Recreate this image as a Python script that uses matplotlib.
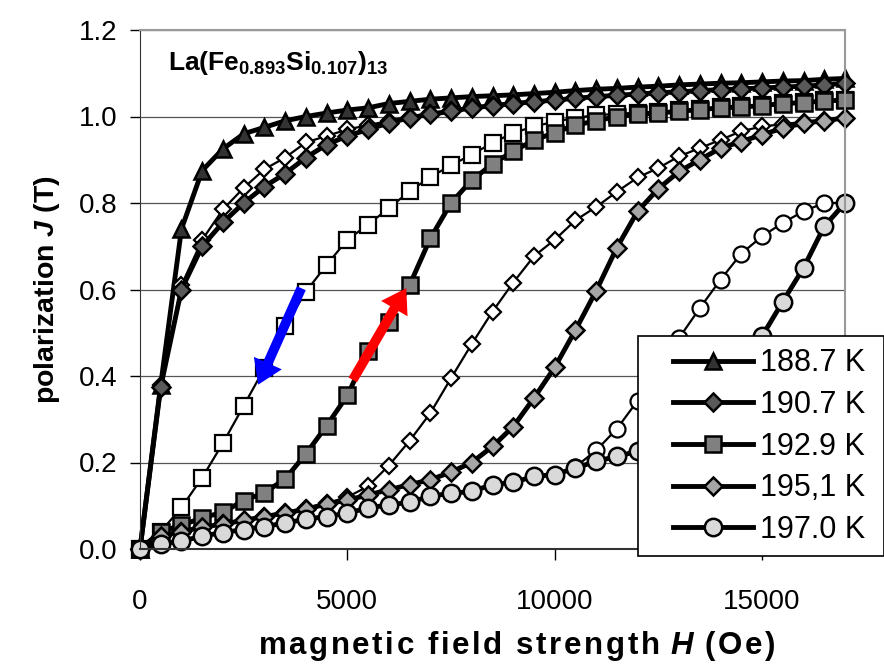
import numpy as np
import matplotlib
matplotlib.use('Agg')
from matplotlib import pyplot as plt
from matplotlib.lines import Line2D
from matplotlib.patches import Rectangle

plt.rcParams['font.family'] = ['Liberation Sans', 'DejaVu Sans']
plt.rcParams['mathtext.fontset'] = 'custom'
plt.rcParams['mathtext.rm'] = 'Liberation Sans'
plt.rcParams['mathtext.it'] = 'Liberation Sans:italic'
plt.rcParams['mathtext.bf'] = 'Liberation Sans:bold'
plt.rcParams['mathtext.bfit'] = 'Liberation Sans:bold:italic'

##############################################
# Data
##############################################
field = list(range(0, 17001, 500))  # H (Oe)

j_188_up = [0, 0.38, 0.74, 0.875, 0.925, 0.96, 0.975, 0.99, 1.0, 1.008, 1.015, 1.02,
            1.03, 1.035, 1.04, 1.043, 1.046, 1.048, 1.05, 1.053, 1.056, 1.06, 1.063,
            1.065, 1.068, 1.07, 1.073, 1.075, 1.077, 1.078, 1.08, 1.082, 1.083, 1.086, 1.088]

j_190_up = [0, 0.375, 0.60, 0.70, 0.755, 0.80, 0.838, 0.868, 0.905, 0.935, 0.955, 0.97,
            0.985, 0.997, 1.005, 1.012, 1.02, 1.025, 1.03, 1.034, 1.038, 1.042, 1.046,
            1.049, 1.052, 1.055, 1.057, 1.06, 1.062, 1.064, 1.066, 1.068, 1.07, 1.073, 1.077]
j_190_down = [0, 0.38, 0.61, 0.715, 0.785, 0.835, 0.878, 0.905, 0.94, 0.955, 0.97, 0.98,
              0.99, 1.0, 1.008, 1.015, 1.022, 1.027, 1.032, 1.036, 1.04, 1.044, 1.047,
              1.05, 1.053, 1.056, 1.058, 1.061, 1.063, 1.065, 1.067, 1.069, 1.071, 1.074, 1.077]

j_192_up = [0, 0.04, 0.055, 0.072, 0.085, 0.112, 0.13, 0.162, 0.22, 0.285, 0.355, 0.457,
            0.525, 0.61, 0.718, 0.80, 0.853, 0.89, 0.92, 0.945, 0.963, 0.98, 0.99,
            1.0, 1.005, 1.008, 1.012, 1.016, 1.02, 1.022, 1.025, 1.03, 1.032, 1.036, 1.038]
j_192_down = [0, 0.04, 0.096, 0.165, 0.245, 0.331, 0.418, 0.515, 0.595, 0.657, 0.715, 0.75,
              0.788, 0.827, 0.86, 0.887, 0.912, 0.939, 0.962, 0.977, 0.988, 0.997, 1.003,
              1.006, 1.009, 1.011, 1.014, 1.018, 1.021, 1.024, 1.027, 1.031, 1.034, 1.037, 1.038]

j_195_up = [0, 0.03, 0.04, 0.05, 0.058, 0.066, 0.075, 0.083, 0.092, 0.104, 0.113, 0.125,
            0.137, 0.149, 0.16, 0.178, 0.2, 0.237, 0.283, 0.349, 0.42, 0.506, 0.597,
            0.697, 0.781, 0.833, 0.873, 0.90, 0.927, 0.942, 0.958, 0.973, 0.985, 0.99, 0.997]
j_195_down = [0, 0.03, 0.042, 0.052, 0.06, 0.068, 0.077, 0.086, 0.095, 0.106, 0.12, 0.145,
              0.193, 0.25, 0.314, 0.395, 0.474, 0.549, 0.616, 0.677, 0.715, 0.76, 0.791,
              0.826, 0.859, 0.881, 0.908, 0.927, 0.946, 0.966, 0.977, 0.982, 0.988, 0.992, 0.997]

j_197_up = [0, 0.012, 0.018, 0.03, 0.038, 0.045, 0.052, 0.06, 0.069, 0.075, 0.083, 0.095,
            0.102, 0.108, 0.122, 0.129, 0.133, 0.149, 0.154, 0.168, 0.172, 0.187, 0.203,
            0.214, 0.226, 0.24, 0.262, 0.295, 0.345, 0.415, 0.492, 0.572, 0.65, 0.746, 0.80]
j_197_down = [0, 0.012, 0.018, 0.03, 0.038, 0.045, 0.052, 0.06, 0.069, 0.075, 0.083, 0.095,
              0.102, 0.108, 0.122, 0.129, 0.133, 0.149, 0.154, 0.168, 0.172, 0.19, 0.228,
              0.278, 0.343, 0.42, 0.488, 0.557, 0.623, 0.683, 0.723, 0.754, 0.781, 0.80, 0.80]

labels = ['188.7 K', '190.7 K', '192.9 K', '195,1 K', '197.0 K']
markers = ['^', 'D', 's', 'D', 'o']
fills = ['#333333', '#595959', '#808080', '#a6a6a6', '#d9d9d9']
msizes = [12, 9.5, 12, 9.5, 12.5]
up_curves = [j_188_up, j_190_up, j_192_up, j_195_up, j_197_up]
down_curves = [None, j_190_down, j_192_down, j_195_down, j_197_down]

##############################################
# Figure
##############################################
fig = plt.figure(figsize=(8.84, 6.70), dpi=100)
ax = fig.add_axes([140/884, 1 - 549/670, (845 - 140)/884, (549 - 30)/670])

for i in range(5):
    if down_curves[i] is not None:  # 減磁過程: 白抜き, 細線
        ax.plot(field, down_curves[i], color='black', lw=1.6, marker=markers[i],
                ms=msizes[i] - 1, mfc='white', mec='black', mew=1.6, clip_on=False)
    ax.plot(field, up_curves[i], color='black', lw=3.5, marker=markers[i],
            ms=msizes[i], mfc=fills[i], mec='black', mew=1.8, clip_on=False)

# 矢印
ax.annotate('', xy=(2850, 0.38), xytext=(3890, 0.603),
            arrowprops=dict(facecolor='#0000ff', edgecolor='none', width=7,
                            headwidth=22, headlength=17, shrink=0))
ax.annotate('', xy=(6420, 0.603), xytext=(5130, 0.391),
            arrowprops=dict(facecolor='#ff0000', edgecolor='none', width=7,
                            headwidth=22, headlength=17, shrink=0))

ax.text(680, 1.108, r'$\mathbf{La(Fe_{0.893}Si_{0.107})_{13}}$', fontsize=19,
        ha='left', va='baseline')

ax.set_xlim(0, 17000)
ax.set_ylim(0, 1.2)
ax.set_xticks([0, 5000, 10000, 15000])
ax.set_yticks(np.arange(0, 1.21, 0.2))
ax.set_yticklabels(['{:.1f}'.format(v) for v in np.arange(0, 1.21, 0.2)])
ax.yaxis.grid(True, color='#555555', lw=0.9)
ax.set_axisbelow(True)
ax.tick_params(axis='x', direction='out', length=8, width=1, labelsize=20, pad=21)
ax.tick_params(axis='y', direction='out', length=7, width=1, labelsize=20, pad=9)

for s in ['top', 'right']:
    ax.spines[s].set_color('#999999')
    ax.spines[s].set_linewidth(1.5)
ax.spines['left'].set_color('#333333')
ax.spines['bottom'].set_color('#333333')
ax.spines['bottom'].set_linewidth(1.5)

hair = '\u200a'
ax.set_ylabel(r'polarization $\mathbfit{J}$ (T)', fontsize=20.5, fontweight='bold', labelpad=12)
xlab = hair.join('magnetic field strength ') + r'$\mathbfit{H}$' + hair.join(' (Oe)')
ax.set_xlabel(xlab, fontsize=22.5, fontweight='bold', labelpad=8)
ax.xaxis.set_label_coords((517 - 140)/705, -0.155)

# 凡例
fig.patches.append(Rectangle((638/884, 1 - 556/670), (884 - 638)/884, (556 - 336)/670,
                             transform=fig.transFigure, facecolor='white',
                             edgecolor='black', lw=1.2, zorder=5))
handles = [Line2D([], [], color='black', lw=3.5, marker=markers[i], ms=msizes[i],
                  mfc=fills[i], mec='black', mew=1.8) for i in range(5)]
fig.legend(handles, labels, loc='upper left', bbox_to_anchor=(652/884, 1 - 327/670),
           frameon=False, fontsize=22, handlelength=2.6, handletextpad=0.25,
           labelspacing=0.38, borderpad=0.2)

plt.savefig('out.png', dpi=100)
